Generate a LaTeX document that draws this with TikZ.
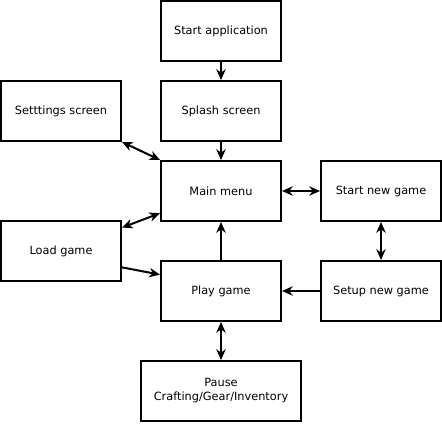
\documentclass[tikz,border=0pt]{standalone}
\usepackage{fontspec}
\setmainfont{DejaVu Sans}
\usetikzlibrary{arrows.meta}
\begin{document}
\begin{tikzpicture}[x=0.75pt,y=-0.75pt,
        screen/.style={draw,line width=1.5pt,minimum width=90pt,minimum height=45pt,
            align=center,font=\fontsize{8.5}{10.5}\selectfont},
        link/.style={line width=1.5pt,-{Stealth[length=8pt,width=7pt,inset=2.5pt]}},
        both/.style={link,{Stealth[length=8pt,width=7pt,inset=2.5pt]}-{Stealth[length=8pt,width=7pt,inset=2.5pt]}}]
        \useasboundingbox (0,0) rectangle (442,431);
        \node[screen] (start) at (221,31) {Start application};
        \node[screen] (settings) at (61,111) {Setttings screen};
        \node[screen] (splash) at (221,111) {Splash screen};
        \node[screen] (menu) at (221,191) {Main menu};
        \node[screen] (newgame) at (381,191) {Start new game};
        \node[screen] (load) at (61,251) {Load game};
        \node[screen] (play) at (221,291) {Play game};
        \node[screen] (setup) at (381,291) {Setup new game};
        \node[screen,minimum width=120pt] (pause) at (221,391) {Pause\\Crafting/Gear/Inventory};
        \foreach \a/\b in {start/splash, splash/menu, setup/play, play/menu}
        \draw[link] (\a) -- (\b);
        \draw[link] (load.-15) -- (play.165);
        \draw[both] (settings.south east) -- (menu.north west);
        \draw[both] (load.21) -- (menu.200);
        \draw[both] (menu) -- (newgame);
        \draw[both] (newgame) -- (setup);
        \draw[both] (play) -- (pause);
    \end{tikzpicture}
\end{document}
